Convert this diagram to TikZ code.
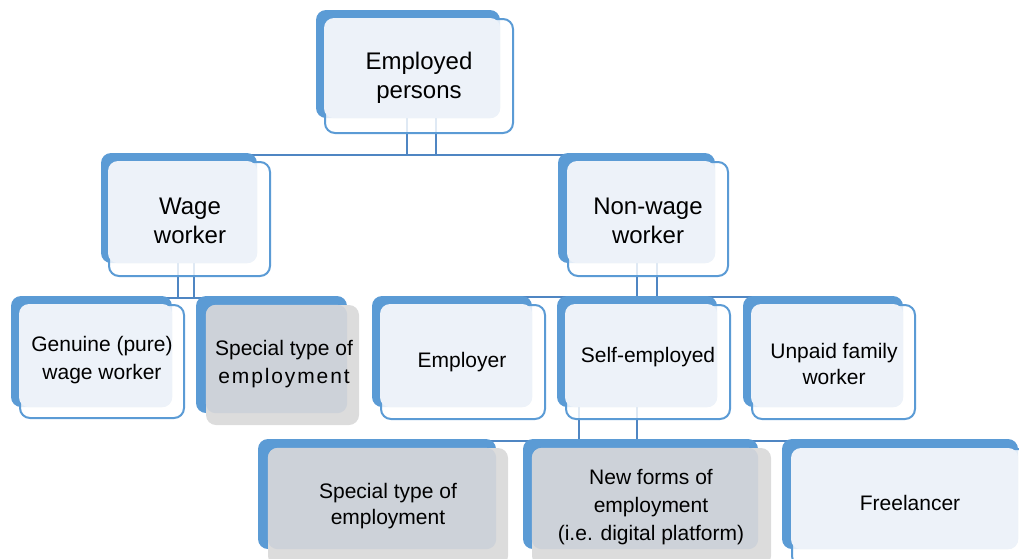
\documentclass[tikz,border=0pt]{standalone}
\usepackage{fontspec}
\setmainfont{Liberation Sans}
\usetikzlibrary{fit,backgrounds}

\definecolor{boxblue}{HTML}{5B9BD5}
\definecolor{linkblue}{HTML}{4F86C3}
\definecolor{paleblue}{HTML}{EDF2F9}
\definecolor{greyface}{HTML}{DCDCDC}
\definecolor{greyinner}{HTML}{CDD2D9}

\tikzset{
  backbox/.style={fit={#1}, inner sep=0pt, rounded corners=10pt, fill=boxblue},
  bluefront/.style={fit={#1}, inner sep=0pt, rounded corners=10pt,
    draw=boxblue, line width=2pt, fill=white, fill opacity=0.82},
  greyfront/.style={fit={#1}, inner sep=0pt, rounded corners=10pt, fill=greyface},
  link/.style={draw=linkblue, line width=2pt},
  bigtxt/.style={align=center, inner sep=0pt, font=\fontsize{24}{29}\selectfont},
  smalltxt/.style={align=center, inner sep=0pt, font=\fontsize{21}{28}\selectfont},
}

% #1 name, #2 back corners, #3 front corners, #4 front style, #5 inner colour
\newcommand\tierbox[5]{%
  \node[backbox={#2}] (#1) {};
  \node[#4={#3}] (#1f) {};
  \fill[#5, rounded corners=10pt] (#1f.north west) rectangle (#1.south east);
}

\begin{document}
\begin{tikzpicture}[x=1pt, y=-1pt]
\path[use as bounding box] (0,0) rectangle (1019,558);
\clip (0,0) rectangle (1019,558);

% boxes
\tierbox{emp}{(316,10) (500,118)}{(325,19) (513,133)}{bluefront}{paleblue}
\tierbox{wage}{(101,153) (257,263)}{(109,162) (270,276)}{bluefront}{paleblue}
\tierbox{nonwage}{(558,153) (715,263)}{(568,162) (728,276)}{bluefront}{paleblue}
\tierbox{genuine}{(11,296) (172,407)}{(20,305) (184,418)}{bluefront}{paleblue}
\tierbox{special}{(196,296) (347,413)}{(206,305) (359,425)}{greyfront}{greyinner}
\tierbox{employer}{(372,296) (532,407)}{(381,305) (545,419)}{bluefront}{paleblue}
\tierbox{selfemp}{(557,296) (717,407)}{(566,305) (730,419)}{bluefront}{paleblue}
\tierbox{unpaid}{(743,296) (903,407)}{(752,305) (915,419)}{bluefront}{paleblue}
\tierbox{specialb}{(258,439) (496,549)}{(268,448) (508,566)}{greyfront}{greyinner}
\tierbox{newforms}{(523,439) (758,549)}{(532,448) (771,566)}{greyfront}{greyinner}
\tierbox{freelancer}{(782,439) (1018,549)}{(792,449) (1032,566)}{bluefront}{paleblue}

% connectors, kept behind the boxes
\begin{scope}[on background layer]
\draw[link] ([xshift=91pt]emp.south west) |- ([yshift=-2pt]nonwage.north);
\draw[link] ([xshift=120pt]emp.south west) |- ([yshift=-2pt]wage.north);
\draw[link] ([xshift=77pt]wage.south west) |- ([yshift=-2pt]special.north);
\draw[link] ([xshift=93pt]wage.south west) |- ([yshift=-2pt]genuine.north);
\draw[link] ([xshift=79pt]nonwage.south west) |- ([yshift=-1pt]employer.north);
\draw[link] ([xshift=99pt]nonwage.south west) |- ([yshift=-1pt]unpaid.north);
\draw[link] ([xshift=22pt]selfemp.south west) |- ([yshift=-2pt]specialb.north);
\draw[link] ([xshift=80pt]selfemp.south west) |- ([yshift=-2pt]freelancer.north);
\end{scope}

% labels
\node[bigtxt] (emp-t) at (419,78) {Employed\\persons};
\node[bigtxt] (wage-t) at (190,221) {Wage\\worker};
\node[bigtxt] (nonwage-t) at (648,221) {Non-wage\\worker};
\node[smalltxt] (genuine-t) at (102,360) {Genuine (pure)\\wage worker};
\node[smalltxt] (special-t) at (284,364)
  {Special type of\\{\addfontfeature{LetterSpace=9}employment}};
\node[smalltxt] (employer-t) at (462,362) {Employer};
\node[smalltxt] (selfemp-t) at (648,357) {Self-employed};
\node[smalltxt, font=\fontsize{21}{26}\selectfont] (unpaid-t) at (834,364) {Unpaid family\\worker};
\node[smalltxt, font=\fontsize{21}{26}\selectfont] (specialb-t) at (388,506) {Special type of\\employment};
\node[smalltxt] (newforms-t) at (651,507) {New forms of\\employment\\(i.e. digital platform)};
\node[smalltxt] (freelancer-t) at (910,503) {Freelancer};
\end{tikzpicture}
\end{document}
